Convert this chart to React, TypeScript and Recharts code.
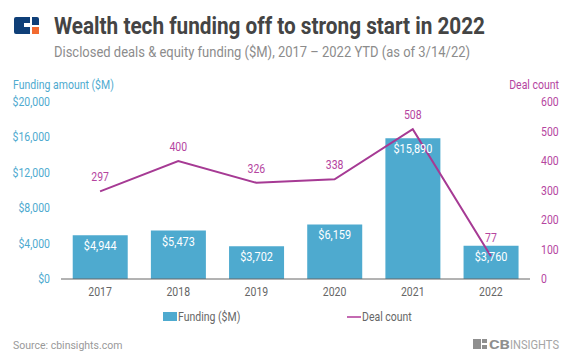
import React from "react";
import { ComposedChart, Bar, Line, XAxis, YAxis, LabelList, Legend } from "recharts";

const years = ["2017", "2018", "2019", "2020", "2021", "2022"];
const funding = [4944, 5473, 3702, 6159, 15890, 3760];
const deals = [297, 400, 326, 338, 508, 77];
const fundingTicks = [0, 4000, 8000, 12000, 16000, 20000];
const dealTicks = [0, 100, 200, 300, 400, 500, 600];
const data = years.map((year, i) => ({ year, funding: funding[i], deals: deals[i] }));

const BLUE = "#4eaacf";
const PURPLE = "#a63a94";
const PURPLE_TEXT = "#b5459f";
const GREY = "#666666";
const FONT = "Roboto, sans-serif";
const SX = 0.84;

const squeezed = (x: number, y: number, text: string, fill: string, size: number, anchor: string, weight = 400) => (
  <text
    transform={`translate(${x} ${y}) scale(${SX} 1)`}
    textAnchor={anchor}
    fill={fill}
    fontSize={size}
    fontWeight={weight}
    fontFamily={FONT}
  >
    {text}
  </text>
);

const LeftTick = (p: any) => squeezed(50, p.y + 4, "$" + Number(p.payload.value).toLocaleString("en-US"), BLUE, 12.5, "end");
const RightTick = (p: any) => squeezed(541, p.y + 4, String(p.payload.value), PURPLE_TEXT, 12.5, "start");
const BottomTick = (p: any) => squeezed(p.x, p.y + 9, p.payload.value, GREY, 12.5, "middle");
const BarLabel = (p: any) => squeezed(p.x + p.width / 2, p.y + 15, "$" + Number(p.value).toLocaleString("en-US"), "#ffffff", 13, "middle");
const LineLabel = (p: any) => squeezed(p.x, p.y - (p.value < 100 ? 14 : 10), String(p.value), PURPLE_TEXT, 12.5, "middle");

const LegendContent = () => (
  <div style={{ position: "relative", height: 16, width: 572, fontFamily: FONT }}>
    <svg width={572} height={16} style={{ position: "absolute", left: 0, top: 0 }}>
      <rect x={163} y={2} width={14} height={9} fill={BLUE} />
      {squeezed(178, 11, "Funding ($M)", GREY, 12.5, "start")}
      <line x1={347} x2={361} y1={7} y2={7} stroke={PURPLE_TEXT} strokeWidth={1.6} />
      {squeezed(362, 11, "Deal count", GREY, 12.5, "start")}
    </svg>
  </div>
);

export default function App() {
  return (
    <div style={{ position: "absolute", left: 0, top: 0, width: 572, height: 364, background: "#fff", overflow: "hidden" }}>
      <ComposedChart
        width={572}
        height={364}
        data={data}
        margin={{ top: 102, right: 0, bottom: 47, left: 0 }}
        barCategoryGap="15%"
      >
        <XAxis
          dataKey="year"
          tick={BottomTick}
          tickLine={false}
          axisLine={{ stroke: "#666666", strokeWidth: 1 }}
          height={22}
        />
        <YAxis yAxisId="l" width={61} domain={[0, 20000]} ticks={fundingTicks} tick={LeftTick} axisLine={false} tickLine={false} interval={0} />
        <YAxis yAxisId="r" orientation="right" width={42} domain={[0, 600]} ticks={dealTicks} tick={RightTick} axisLine={false} tickLine={false} interval={0} />
        <Bar yAxisId="l" dataKey="funding" name="Funding ($M)" fill={BLUE} isAnimationActive={false}>
          <LabelList dataKey="funding" content={BarLabel} />
        </Bar>
        <Line yAxisId="r" type="linear" dataKey="deals" name="Deal count" stroke={PURPLE} strokeWidth={2} dot={false} isAnimationActive={false}>
          <LabelList dataKey="deals" content={LineLabel} />
        </Line>
        <Legend content={LegendContent} wrapperStyle={{ left: 0, top: 310, width: 572 }} />
      </ComposedChart>

      <svg width={572} height={364} style={{ position: "absolute", left: 0, top: 0, pointerEvents: "none" }}>
        <rect x={14} y={17} width={25} height={17} rx={2} fill="#0f3f78" />
        <rect x={30} y={17} width={2} height={17} fill="#fff" />
        <rect x={24} y={23} width={6} height={4} fill="#fff" />
        <rect x={32} y={25} width={7} height={2} fill="#fff" />
        <rect x={32} y={27} width={7} height={7} fill="#f26a30" />
        <text x={54} y={34} fontFamily={FONT} fontWeight={700} fontSize={24} fill="#444444" textLength={431} lengthAdjust="spacingAndGlyphs">
          Wealth tech funding off to strong start in 2022
        </text>
        <text x={54} y={57} fontFamily={FONT} fontSize={14.5} fill="#8c8c8c" textLength={416} lengthAdjust="spacingAndGlyphs">
          Disclosed deals &amp; equity funding ($M), 2017 – 2022 YTD (as of 3/14/22)
        </text>
        {squeezed(13, 89, "Funding amount ($M)", BLUE, 12.5, "start")}
        {squeezed(559, 89, "Deal count", PURPLE_TEXT, 12.5, "end")}
        <text x={13} y={349} fontFamily={FONT} fontSize={10.5} fill="#999999">Source: cbinsights.com</text>
        <rect x={473} y={339} width={8} height={10} fill="#8f8f8f" />
        <rect x={482} y={339} width={5} height={4} fill="#8f8f8f" />
        <rect x={482} y={345} width={5} height={4} fill="#8f8f8f" />
        <text x={489} y={349} fontFamily={FONT} fontSize={13} fontWeight={700} fill="#8f8f8f" textLength={21} lengthAdjust="spacingAndGlyphs">CB</text>
        <text x={510} y={349} fontFamily={FONT} fontSize={13} fill="#a5a5a5" textLength={49} lengthAdjust="spacingAndGlyphs">INSIGHTS</text>
      </svg>
    </div>
  );
}
